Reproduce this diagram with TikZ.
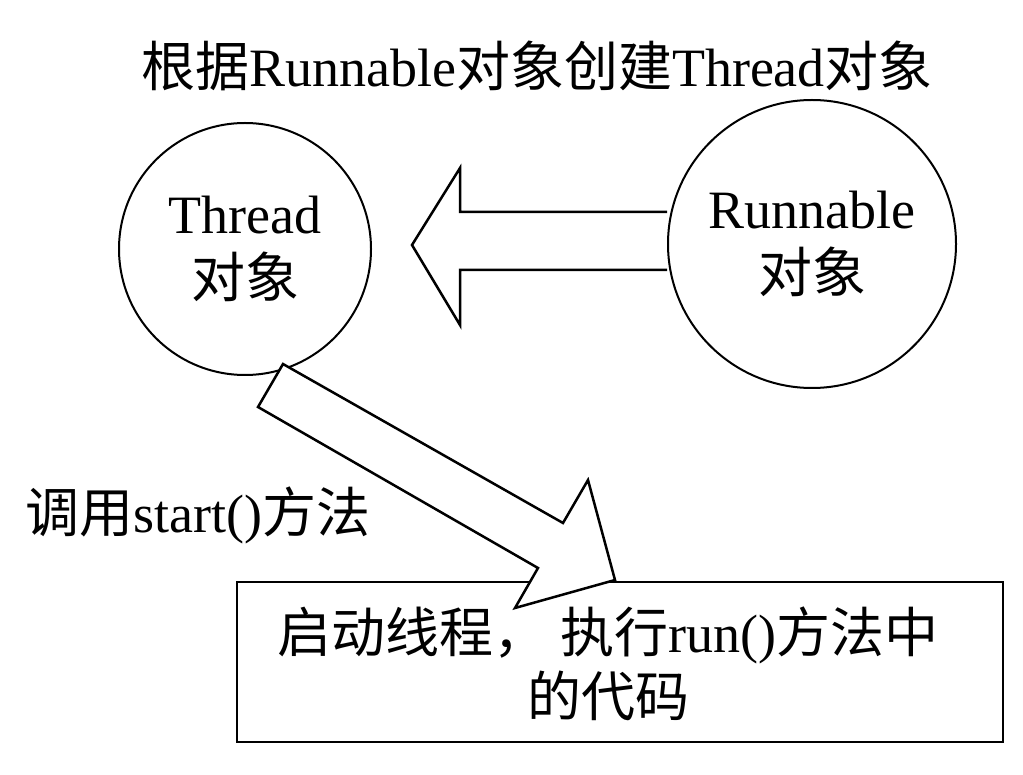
\documentclass[tikz,border=0pt]{standalone}
\usepackage{fontspec}
\setmainfont{Liberation Serif}
\newfontfamily\cjk{Noto Sans CJK SC}
\begin{document}
\begin{tikzpicture}[x=1pt,y=-1pt,line width=2.5pt,
  lbl/.style={font=\fontsize{54}{64}\selectfont\cjk, inner sep=0pt},
  hollow/.style={draw,fill=white,line join=miter}]
\useasboundingbox (0,0) rectangle (1023,775);
\node[draw,line width=2pt,minimum width=766pt,minimum height=160pt,inner sep=0pt] (box) at (620,662) {};
\node[lbl,align=center] (boxt) at (608,664) {启动线程， 执行{\fontspec{Liberation Serif}run()}方法中\\的代码};
\draw[hollow] (667,212) -- (460,212) -- (460,168) -- (412,245) -- (460,325) -- (460,270) -- (667,270);
\node[draw,circle,minimum size=252pt,inner sep=0pt,line width=2pt] (thr) at (245,249) {};
\node[draw,circle,minimum size=288pt,inner sep=0pt,line width=2pt] (run) at (812,244) {};
\node[lbl,align=center] (thrt) at (thr) {\fontspec{Liberation Serif}Thread\\对象};
\node[lbl,align=center] (runt) at (run) {\fontspec{Liberation Serif}Runnable\\对象};
\node[lbl] (title) at (537,66) {根据{\fontspec{Liberation Serif}Runnable}对象创建{\fontspec{Liberation Serif}Thread}对象};
\draw[hollow] (283,364) -- (563,523) -- (588,480) -- (615,580) -- (515,608) -- (538,568) -- (258,407) -- cycle;
\node[lbl] (call) at (198,515) {调用{\fontspec{Liberation Serif}start()}方法};
\end{tikzpicture}
\end{document}
